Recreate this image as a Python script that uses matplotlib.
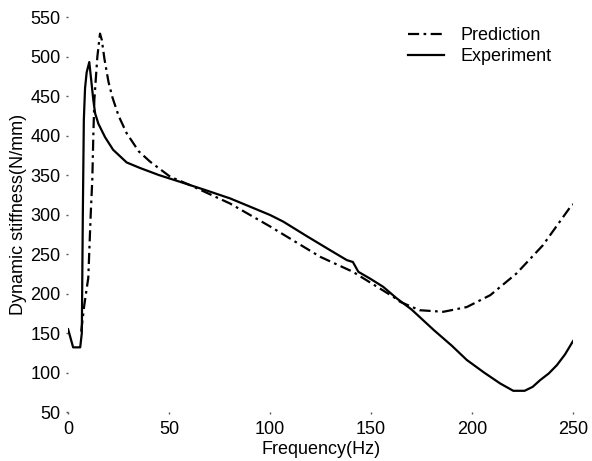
import matplotlib
matplotlib.use("Agg")
import matplotlib.pyplot as plt

plt.rcParams['font.family'] = ['Liberation Sans', 'DejaVu Sans']

# measured (solid)
exp_freq = [0, 2.5, 6, 6.8, 7.3, 7.8, 8.4, 9.2, 10.5, 12.5, 13.4, 15, 18.3, 22.3, 29,
            35.6, 45, 55.4, 68, 80.2, 92, 100, 106.6, 118, 129.7, 138, 141, 143.7,
            149.5, 156, 162.7, 170, 181, 190, 197.4, 206, 213.9, 220.4, 226, 230,
            233.7, 238, 242, 246, 249.3, 250]
exp_stiff = [155, 132, 132, 150, 300, 420, 460, 480, 493, 445, 428, 415, 398, 382, 366,
             359, 350, 341.5, 331, 320.5, 308, 299.5, 291, 273, 255, 242.4, 240, 227.6,
             219, 208.6, 194, 180, 154, 134, 116, 100, 86.3, 77, 77, 82,
             90.5, 99, 109.5, 123, 137, 140]

# model (dash-dot)
pred_freq = [6.5, 8, 10, 11.2, 12, 12.5, 13, 14.5, 15.8, 16.7, 18, 20, 22, 25, 29,
             35, 40.6, 50.5, 60.4, 80.2, 100, 124.8, 141, 161, 164.4, 174, 185.8,
             197.4, 209, 222, 235, 249.3, 250]
pred_stiff = [152, 185, 220, 300, 345, 400, 445, 500, 529, 521, 497, 468, 448, 425,
              403, 380, 367, 348, 337.3, 314, 285, 246.6, 227.6, 196, 189.6, 179, 177,
              183, 198, 225.5, 261, 312, 313]

fig = plt.figure(figsize=(5.92, 4.61), dpi=100)
ax = fig.add_axes([0.115, 0.106, 0.853, 0.857])

ax.plot(pred_freq, pred_stiff, color='black', lw=1.6, dashes=(5, 2, 1.2, 2),
        label='Prediction')
ax.plot(exp_freq, exp_stiff, color='black', lw=1.6, label='Experiment')

ax.set_xlim(0, 250)
ax.set_ylim(50, 550)
ax.set_xticks([0, 50, 100, 150, 200, 250])
ax.set_yticks([50, 100, 150, 200, 250, 300, 350, 400, 450, 500, 550])

for s in ax.spines.values():
    s.set_visible(False)
ax.tick_params(axis='both', labelsize=13, length=1.5, width=1, color='#555555')
ax.tick_params(axis='x', pad=5)
ax.tick_params(axis='y', pad=4)

ax.set_xlabel('Frequency(Hz)', fontsize=13, labelpad=2)
ax.set_ylabel('Dynamic stiffness(N/mm)', fontsize=13, labelpad=2)

ax.legend(loc='upper right', frameon=False, fontsize=13, handlelength=2.0,
          handletextpad=0.9, labelspacing=0.2, bbox_to_anchor=(0.99, 1.015))

fig.savefig('out.png', dpi=100)
